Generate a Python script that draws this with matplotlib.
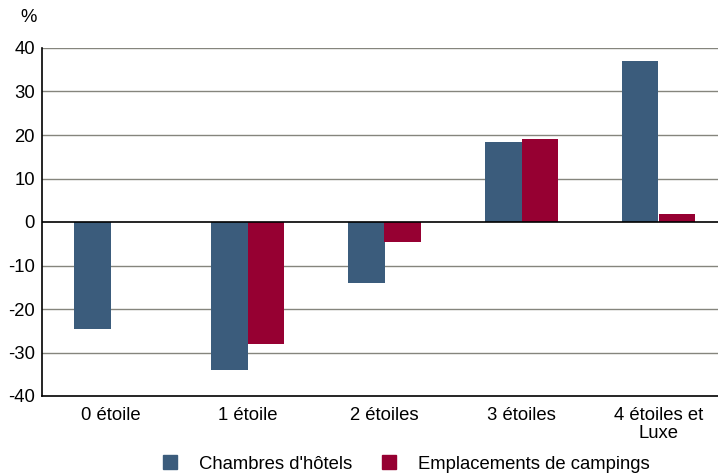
import matplotlib
matplotlib.use("Agg")
import matplotlib.pyplot as plt
import numpy as np
from matplotlib.patches import Patch

plt.rcParams['font.family'] = ['Liberation Sans', 'DejaVu Sans']

categories = ["0 étoile", "1 étoile", "2 étoiles", "3 étoiles", "4 étoiles et\nLuxe"]
hotels = [-24.6, -34.0, -14.0, 18.4, 37.0]
campings = [np.nan, -28.0, -4.6, 19.1, 1.8]
series_names = ["Chambres d'hôtels", "Emplacements de campings"]
yticks = [-40, -30, -20, -10, 0, 10, 20, 30, 40]

c_hot = '#3b5c7c'
c_camp = '#960032'
fs = 13.3

fig = plt.figure(figsize=(7.18, 4.75), dpi=100)
ax = fig.add_axes([42/718, 1-396/475, 685/718, 348/475])

x = np.arange(len(categories))
w = 0.27
ax.bar(x - w/2, hotels, w, color=c_hot, zorder=3)
ax.bar(x + w/2, campings, w, color=c_camp, zorder=3)

ax.set_xlim(-0.5, 4.5)
ax.set_ylim(-40, 40)
ax.set_yticks(yticks)
ax.set_yticklabels([str(v) for v in yticks], fontsize=fs)
ax.set_xticks(x)
ax.set_xticklabels(categories, fontsize=fs, linespacing=1.05)
ax.tick_params(axis='y', length=0, pad=5)
ax.tick_params(axis='x', length=0, pad=8)

for v in yticks:
    if v == 0:
        ax.axhline(0, color='black', lw=1.2, zorder=4)
    elif v != -40:
        ax.axhline(v, color='#85857d', lw=1.0, zorder=1)

for s in ['top', 'right']:
    ax.spines[s].set_visible(False)
ax.spines['left'].set_color('black')
ax.spines['left'].set_linewidth(1.2)
ax.spines['bottom'].set_color('black')
ax.spines['bottom'].set_linewidth(1.2)

fig.text(20/718, 1-18/475, "%", fontsize=fs, ha='left', va='center')

handles = [Patch(color=c_hot), Patch(color=c_camp)]
fig.legend(handles, series_names, loc='center', bbox_to_anchor=(0.566, 1-464/475),
           ncol=2, frameon=False, fontsize=fs, handlelength=0.75, handleheight=0.75,
           columnspacing=1.6, handletextpad=1.2)

fig.savefig("out.png", dpi=100)
